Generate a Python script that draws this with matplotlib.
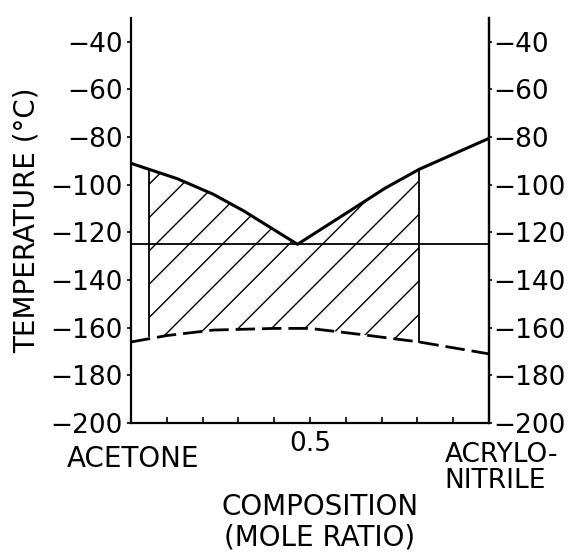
#!/usr/bin/env python3

import numpy as np
from matplotlib import pyplot as plt

out_filename = "out.png"

# liquidus (upper, solid) curve: composition (mole ratio) vs temperature
liq_comp = [0.0, 0.13, 0.23, 0.315, 0.39, 0.465, 0.616, 0.709, 0.805, 1.0]
liq_temp = [-91, -97.5, -104, -111, -118, -125, -110.5, -101.5, -93.5, -80.5]

# lower dashed curve
sol_comp = [0.0, 0.1, 0.23, 0.4, 0.5, 0.65, 0.805, 1.0]
sol_temp = [-166, -163.3, -161, -160.3, -160.3, -163, -166, -171]

# vertical bounds of the hatched region: (composition, top, bottom)
left_bar = (0.05, -94, -163.6)
right_bar = (0.805, -93.5, -166)

eutectic_temp = -125

y_ticks = [-200, -180, -160, -140, -120, -100, -80, -60, -40]
x_ticks = [0.1, 0.2, 0.3, 0.4, 0.5, 0.6, 0.7, 0.8, 0.9]
x_tick_labels = ["", "", "", "", "0.5", "", "", "", ""]


def main():
    plt.rcParams["font.family"] = "DejaVu Sans"
    fig = plt.figure(figsize=(5.72, 5.54), dpi=100)
    ax = fig.add_axes([0.229, 0.2365, 0.626, 0.731])

    # hatched region
    c0, c1 = left_bar[0], right_bar[0]
    upper = [(left_bar[0], left_bar[1])]
    upper += [(c, t) for c, t in zip(liq_comp, liq_temp) if c0 < c < c1]
    upper += [(right_bar[0], right_bar[1]), (right_bar[0], right_bar[2])]
    lower = [(c, t) for c, t in zip(sol_comp, sol_temp) if c0 < c < c1]
    lower = lower[::-1] + [(left_bar[0], left_bar[2])]
    poly = np.array(upper + lower)
    ax.fill(poly[:, 0], poly[:, 1], facecolor="none", edgecolor="k",
            hatch="/", linewidth=0)

    ax.plot(liq_comp, liq_temp, color="k", linewidth=2.2, solid_capstyle="round")
    (dash,) = ax.plot(sol_comp, sol_temp, color="k", linewidth=2.0, linestyle="--")
    dash.set_dashes([7, 2.5])
    for c, top, bot in (left_bar, right_bar):
        ax.plot([c, c], [top, bot], color="k", linewidth=1.3)
    ax.plot([0, 1], [eutectic_temp, eutectic_temp], color="k", linewidth=1.3)

    ax.set_xlim(0, 1)
    ax.set_ylim(-200, -30)
    ax.spines["top"].set_visible(False)
    for side in ("left", "right", "bottom"):
        ax.spines[side].set_linewidth(1.6)

    ax.set_xticks(x_ticks, x_tick_labels, fontsize=19)
    ax.tick_params(axis="x", direction="in", length=4, width=1.2, pad=6)
    ax.set_yticks(y_ticks)
    ax.tick_params(axis="y", direction="out", length=3, width=1.2, pad=3,
                   labelsize=19)

    ax2 = ax.twinx()
    ax2.set_ylim(ax.get_ylim())
    ax2.set_yticks(y_ticks)
    ax2.tick_params(axis="y", direction="out", length=2, width=1.2, pad=1,
                    labelsize=19)
    for side in ("top", "left", "bottom"):
        ax2.spines[side].set_visible(False)
    ax2.spines["right"].set_linewidth(1.6)

    fig.text(0.047, 0.603, "TEMPERATURE (°C)", rotation=90, fontsize=20,
             ha="center", va="center")
    fig.text(0.2325, 0.1715, "ACETONE", fontsize=20, ha="center", va="center")
    fig.text(0.876, 0.156, "ACRYLO-\nNITRILE", fontsize=19, ha="center",
             va="center", multialignment="left", linespacing=1.0)
    fig.text(0.5594, 0.0578, "COMPOSITION\n(MOLE RATIO)", fontsize=20,
             ha="center", va="center", linespacing=1.1)

    fig.savefig(out_filename, dpi=100)


if __name__ == "__main__":
    main()
